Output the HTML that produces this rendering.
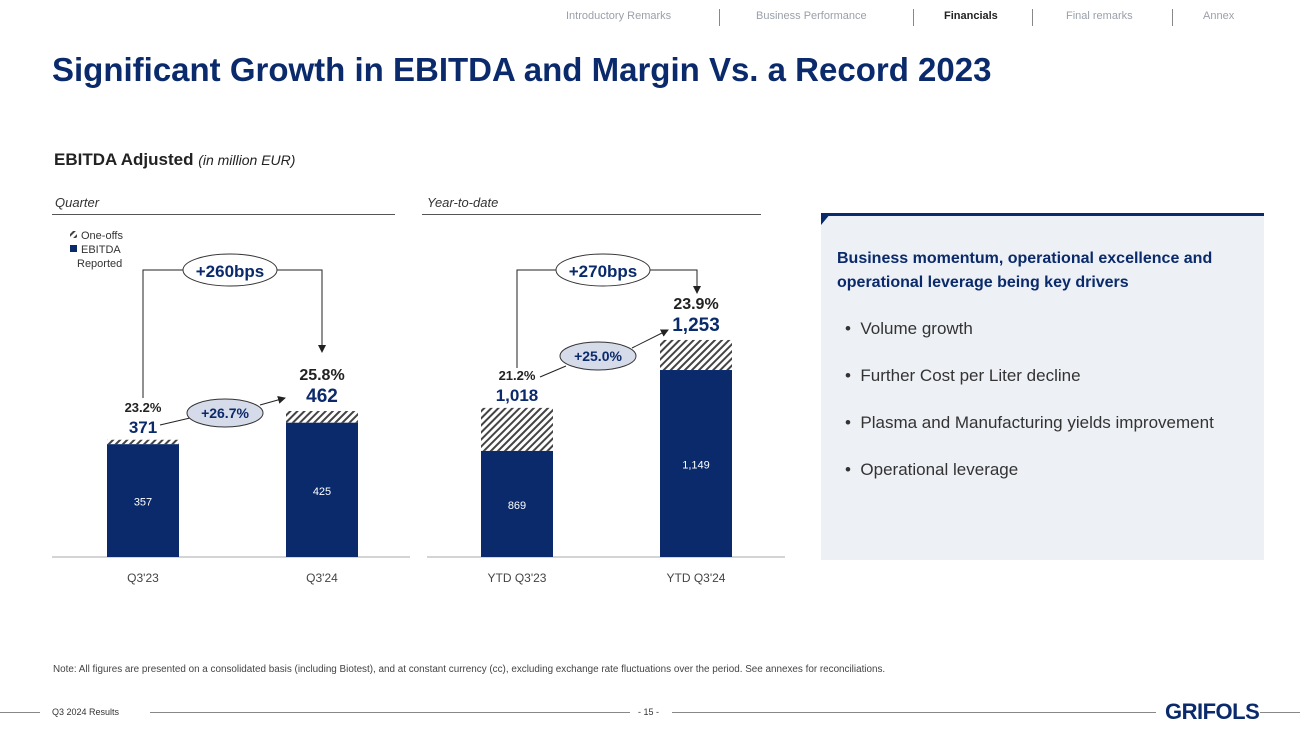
<!DOCTYPE html>
<html><head><meta charset="utf-8"><style>
body{margin:0;width:1300px;height:731px;background:#fff;font-family:"Liberation Sans",sans-serif;position:relative;overflow:hidden}
.a{position:absolute;white-space:nowrap}
.nav{top:10px;font-size:11px;color:#9aa0aa}
.sep{position:absolute;top:9px;width:1px;height:17px;background:#888}
</style></head><body>
<div class="a nav" style="left:566px">Introductory Remarks</div>
<div class="sep" style="left:719px"></div>
<div class="a nav" style="left:756px">Business Performance</div>
<div class="sep" style="left:913px"></div>
<div class="a nav" style="left:944px;color:#222;font-weight:bold">Financials</div>
<div class="sep" style="left:1032px"></div>
<div class="a nav" style="left:1066px">Final remarks</div>
<div class="sep" style="left:1172px"></div>
<div class="a nav" style="left:1203px">Annex</div>
<div class="a" style="left:52px;top:51px;font-size:33px;font-weight:bold;color:#0a2a6b">Significant Growth in EBITDA and Margin Vs. a Record 2023</div>
<div class="a" style="left:54px;top:150px;font-size:17px;font-weight:bold;color:#222">EBITDA Adjusted <span style="font-weight:normal;font-style:italic;font-size:14px">(in million EUR)</span></div>
<div class="a" style="left:55px;top:195px;font-size:13px;font-style:italic;color:#333">Quarter</div>
<div class="a" style="left:52px;top:214px;width:343px;height:1px;background:#555"></div>
<div class="a" style="left:427px;top:195px;font-size:13px;font-style:italic;color:#333">Year-to-date</div>
<div class="a" style="left:422px;top:214px;width:339px;height:1px;background:#555"></div>
<svg class="a" style="left:0;top:0" width="800" height="620" id="chart">
<defs><pattern id="h" width="5" height="5" patternUnits="userSpaceOnUse" patternTransform="rotate(45)"><rect width="5" height="5" fill="#fff"/><rect width="2" height="5" fill="#444"/></pattern>
<marker id="ar" markerWidth="8" markerHeight="8" refX="7" refY="4" orient="auto"><path d="M0,0L8,4L0,8z" fill="#222"/></marker></defs>
<g>
<rect x="70" y="231" width="7" height="7" fill="url(#h)"/><text x="81" y="239" font-size="11" fill="#333">One-offs</text>
<rect x="70" y="245" width="7" height="7" fill="#0a2a6b"/><text x="81" y="253" font-size="11" fill="#333">EBITDA</text>
<text x="77" y="267" font-size="11" fill="#333">Reported</text></g>
<line x1="52" y1="557" x2="410" y2="557" stroke="#aaa"/>
<line x1="427" y1="557" x2="785" y2="557" stroke="#aaa"/>
<g id="bars"></g>
<g fill="none" stroke="#222" stroke-width="1">
<polyline points="143,398 143,270 185,270"/><polyline points="276,270 322,270 322,352" marker-end="url(#ar)"/>
<polyline points="517,368 517,270 558,270"/><polyline points="650,270 697,270 697,293" marker-end="url(#ar)"/>
<line x1="160" y1="425" x2="190" y2="418"/><line x1="260" y1="405" x2="285" y2="398" marker-end="url(#ar)"/>
<line x1="540" y1="377" x2="566" y2="366"/><line x1="632" y1="348" x2="668" y2="330" marker-end="url(#ar)"/>
</g>
<g font-weight="bold" text-anchor="middle">
<ellipse cx="230" cy="270" rx="47" ry="16" fill="#fff" stroke="#333"/><text x="230" y="277" font-size="17" fill="#0a2a6b">+260bps</text>
<ellipse cx="603" cy="270" rx="47" ry="16" fill="#fff" stroke="#333"/><text x="603" y="277" font-size="17" fill="#0a2a6b">+270bps</text>
<ellipse cx="225" cy="413" rx="38" ry="14" fill="#d5dbe8" stroke="#333"/><text x="225" y="418" font-size="14" fill="#0a2a6b">+26.7%</text>
<ellipse cx="598" cy="356" rx="38" ry="14" fill="#d5dbe8" stroke="#333"/><text x="598" y="361" font-size="14" fill="#0a2a6b">+25.0%</text>
</g>
</svg>
<div class="a" style="left:821px;top:213px;width:443px;height:347px;background:#edf0f5">
<div style="position:absolute;left:0;top:0;width:443px;height:3px;background:#0a2a6b"></div>
<div style="position:absolute;left:0;top:0;width:0;height:0;border-top:12px solid #0a2a6b;border-right:10px solid transparent"></div>
<div style="position:absolute;left:16px;top:34px;font-size:16px;font-weight:bold;color:#0a2a6b;line-height:24px">Business momentum, operational excellence and<br>operational leverage being key drivers</div>
<div style="position:absolute;left:24px;top:92px;font-size:17px;color:#333;line-height:47px">
<div>•&nbsp;&nbsp;Volume growth</div>
<div>•&nbsp;&nbsp;Further Cost per Liter decline</div>
<div>•&nbsp;&nbsp;Plasma and Manufacturing yields improvement</div>
<div>•&nbsp;&nbsp;Operational leverage</div></div></div>
<div class="a" style="left:53px;top:664px;font-size:9.9px;color:#444">Note: All figures are presented on a consolidated basis (including Biotest), and at constant currency (cc), excluding exchange rate fluctuations over the period. See annexes for reconciliations.</div>
<div class="a" style="left:0;top:712px;width:40px;height:1px;background:#888"></div>
<div class="a" style="left:52px;top:707px;font-size:9px;color:#333">Q3 2024 Results</div>
<div class="a" style="left:150px;top:712px;width:480px;height:1px;background:#888"></div>
<div class="a" style="left:638px;top:707px;font-size:9px;color:#333">- 15 -</div>
<div class="a" style="left:672px;top:712px;width:484px;height:1px;background:#888"></div>
<div class="a" style="left:1165px;top:699px;font-size:22px;font-weight:bold;color:#0a2a6b;letter-spacing:-0.5px">GRIFOLS</div>
<div class="a" style="left:1260px;top:712px;width:40px;height:1px;background:#888"></div>
<script>
const categories=["Q3'23","Q3'24","YTD Q3'23","YTD Q3'24"];
const reported=[357,425,869,1149];
const adjusted=[371,462,1018,1253];
const margins=["23.2%","25.8%","21.2%","23.9%"];
const totalLabels=["371","462","1,018","1,253"];
const reportedLabels=["357","425","869","1,149"];
const NS="http://www.w3.org/2000/svg";
const g=document.getElementById('bars');
const base=557;
function yQ(v){return base-0.316*v;}
function yY(v){return base-0.289*(v-502);}
const xs=[107,286,481,660];
function mk(t,a){const e=document.createElementNS(NS,t);for(const k in a)e.setAttribute(k,a[k]);g.appendChild(e);return e;}
for(let i=0;i<4;i++){
 const y=i<2?yQ:yY;const x=xs[i],w=72;
 const yr=y(reported[i]),ya=y(adjusted[i]);
 const h=mk('rect',{x:x,y:ya,width:w,height:yr-ya,fill:'url(#h)'});
 
 
 const r=mk('rect',{x:x,y:yr,width:w,height:base-yr,fill:'#0a2a6b'});
 
 
 const cx=x+w/2;
 const t1=mk('text',{x:cx,y:(yr+base)/2+5,'font-size':11,fill:'#fff','text-anchor':'middle'});t1.textContent=reportedLabels[i];
 const big=i%2==1;
 const t2=mk('text',{x:cx,y:ya-(big?9:7),'font-size':big?19:17,'font-weight':'bold',fill:'#0a2a6b','text-anchor':'middle'});t2.textContent=totalLabels[i];
 const t3=mk('text',{x:cx,y:ya-(big?31:28),'font-size':big?16:13,'font-weight':'bold',fill:'#222','text-anchor':'middle'});t3.textContent=margins[i];
 const t4=mk('text',{x:cx,y:582,'font-size':12,fill:'#444','text-anchor':'middle'});t4.textContent=categories[i];
 
 
}
</script>
</body></html>
